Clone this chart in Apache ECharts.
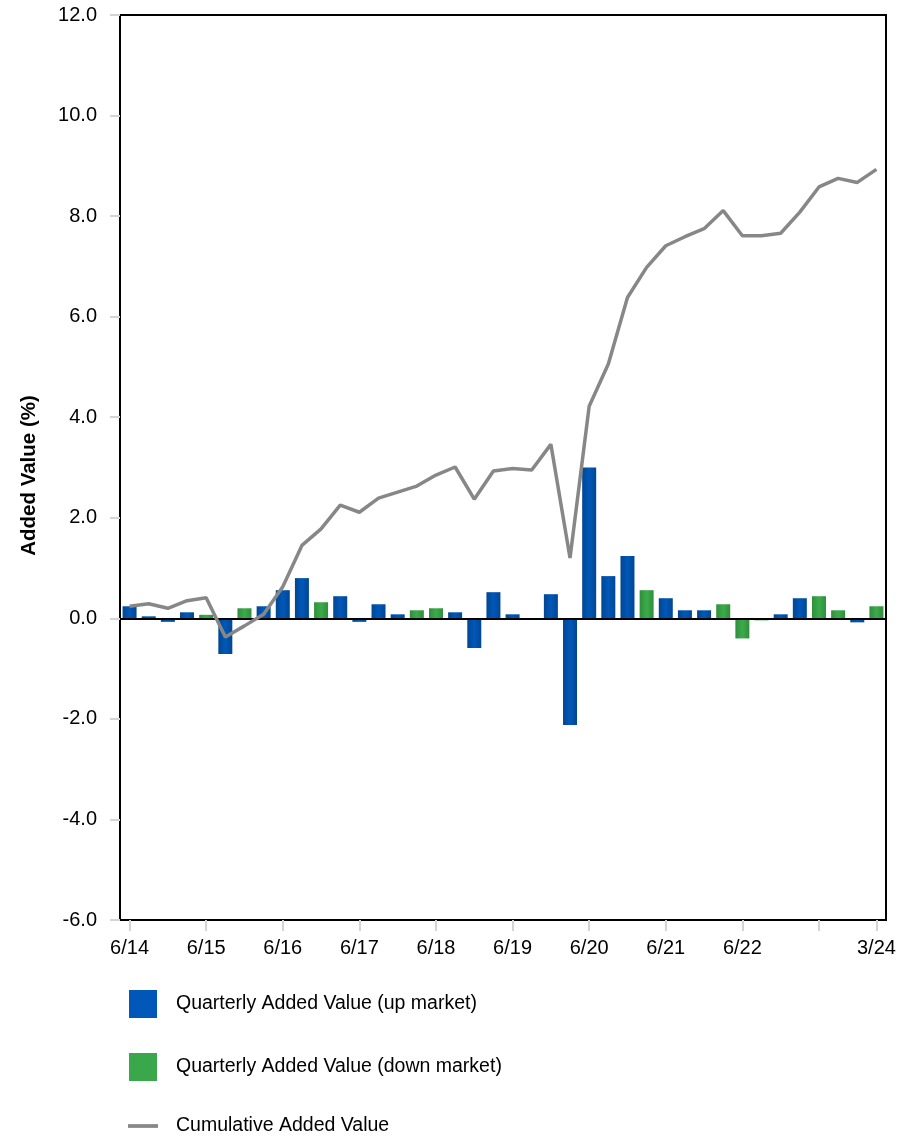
<!DOCTYPE html>
<html>
<head>
<meta charset="utf-8">
<script src="https://cdn.jsdelivr.net/npm/echarts@6/dist/echarts.min.js"></script>
<style>
    html, body { margin: 0; padding: 0; background: #fff; }
    #chart { width: 917px; height: 1143px; }
</style>
</head>
<body>
<div id="chart"></div>
<script>
// quarters 6/14 .. 3/24
const quarters = [
    '6/14', '9/14', '12/14', '3/15', '6/15', '9/15', '12/15', '3/16',
    '6/16', '9/16', '12/16', '3/17', '6/17', '9/17', '12/17', '3/18',
    '6/18', '9/18', '12/18', '3/19', '6/19', '9/19', '12/19', '3/20',
    '6/20', '9/20', '12/20', '3/21', '6/21', '9/21', '12/21', '3/22',
    '6/22', '9/22', '12/22', '3/23', '6/23', '9/23', '12/23', '3/24'
]

// quarterly added value, up market quarters (blue)
const upMarket = [
    0.24, 0.04, -0.07, 0.12, null, -0.71, null, 0.24,
    0.56, 0.80, null, 0.44, -0.07, 0.28, 0.08, null,
    null, 0.12, -0.59, 0.52, 0.08, -0.03, 0.48, -2.12,
    3.00, 0.84, 1.24, null, 0.40, 0.16, 0.16, null,
    null, null, 0.08, 0.40, null, null, -0.08, null
]

// quarterly added value, down market quarters (green)
const downMarket = [
    null, null, null, null, 0.07, null, 0.20, null,
    null, null, 0.32, null, null, null, null, 0.16,
    0.20, null, null, null, null, null, null, null,
    null, null, null, 0.56, null, null, null, 0.28,
    -0.40, -0.04, null, null, 0.44, 0.16, null, 0.24
]

// cumulative added value
const cumulative = [
    0.24, 0.29, 0.20, 0.35, 0.41, -0.37, -0.15, 0.08,
    0.63, 1.45, 1.78, 2.25, 2.11, 2.39, 2.51, 2.63,
    2.85, 3.01, 2.37, 2.93, 2.98, 2.95, 3.46, 1.20,
    4.22, 5.06, 6.38, 6.98, 7.41, 7.59, 7.75, 8.11,
    7.61, 7.61, 7.66, 8.08, 8.58, 8.75, 8.67, 8.93
]

const FONT = '"Liberation Sans", Arial, sans-serif'

// which categories get a tick / a label
const tickShown = idx => idx % 4 === 0 || idx === quarters.length - 1
const labelShown = idx => (idx % 4 === 0 && idx !== 36) || idx === quarters.length - 1

function barGradient(edge, mid) {
    return new echarts.graphic.LinearGradient(0, 0, 1, 0, [
        { offset: 0, color: edge },
        { offset: 0.5, color: mid },
        { offset: 1, color: edge }
    ])
}

let myChart = echarts.init(document.getElementById('chart'), null, { renderer: 'canvas' })

let option = {
    backgroundColor: '#fff',
    animation: false,
    textStyle: { fontFamily: FONT },
    grid: {
        left: 120,
        right: 31,
        top: 15,
        bottom: 223,
        show: true,
        borderColor: '#000',
        borderWidth: 2
    },
    legend: {
        orient: 'vertical',
        left: 123,
        top: 985,
        height: 200,
        itemWidth: 30,
        itemHeight: 28,
        itemGap: 35,
        textStyle: {
            fontFamily: FONT,
            fontSize: 19.5,
            color: '#000',
            padding: [0, 0, 0, 13]
        },
        data: [
            { name: 'Quarterly Added Value (up market)', icon: 'path://M0,0 L28,0 L28,28 L0,28 Z', itemStyle: { color: '#0057b8' } },
            { name: 'Quarterly Added Value (down market)', icon: 'path://M0,0 L28,0 L28,28 L0,28 Z', itemStyle: { color: '#3aa84a' } },
            {
                name: 'Cumulative Added Value',
                icon: 'path://M0,0 L32,0 L32,4 L0,4 Z',
                itemStyle: { color: '#878787' }
            }
        ]
    },
    xAxis: {
        type: 'category',
        data: quarters,
        boundaryGap: true,
        axisLine: { show: false, onZero: false },
        axisTick: {
            show: true,
            alignWithLabel: true,
            interval: tickShown,
            length: 11,
            lineStyle: { color: '#d4d4d4', width: 2 }
        },
        axisLabel: {
            interval: labelShown,
            margin: 18,
            fontSize: 20,
            color: '#000',
            fontFamily: FONT
        },
        splitLine: { show: false }
    },
    yAxis: {
        type: 'value',
        min: -6,
        max: 12,
        interval: 2,
        name: 'Added Value (%)',
        nameLocation: 'middle',
        nameGap: 80,
        nameTextStyle: {
            fontFamily: FONT,
            fontSize: 20.5,
            fontWeight: 'bold',
            color: '#000',
            padding: [0, 16, 0, 0]
        },
        axisLine: { show: false },
        axisTick: {
            show: true,
            length: 10,
            lineStyle: { color: '#d4d4d4', width: 2 }
        },
        axisLabel: {
            margin: 23,
            fontSize: 20,
            color: '#000',
            fontFamily: FONT,
            formatter: v => v.toFixed(1)
        },
        splitLine: { show: false }
    },
    series: [
        {
            name: 'Quarterly Added Value (up market)',
            type: 'bar',
            stack: 'quarterly',
            barWidth: 14,
            itemStyle: { color: barGradient('#004793', '#0058b8') },
            data: upMarket,
            markLine: {
                silent: true,
                symbol: 'none',
                label: { show: false },
                lineStyle: { color: '#000', width: 2, type: 'solid' },
                data: [{ yAxis: 0 }]
            }
        },
        {
            name: 'Quarterly Added Value (down market)',
            type: 'bar',
            stack: 'quarterly',
            barWidth: 14,
            itemStyle: { color: barGradient('#2f8f3b', '#3cab4b') },
            data: downMarket
        },
        {
            name: 'Cumulative Added Value',
            type: 'line',
            symbol: 'none',
            z: 5,
            lineStyle: { color: '#878787', width: 3.5 },
            itemStyle: { color: '#878787' },
            data: cumulative
        }
    ]
}

myChart.setOption(option)
</script>
</body>
</html>
